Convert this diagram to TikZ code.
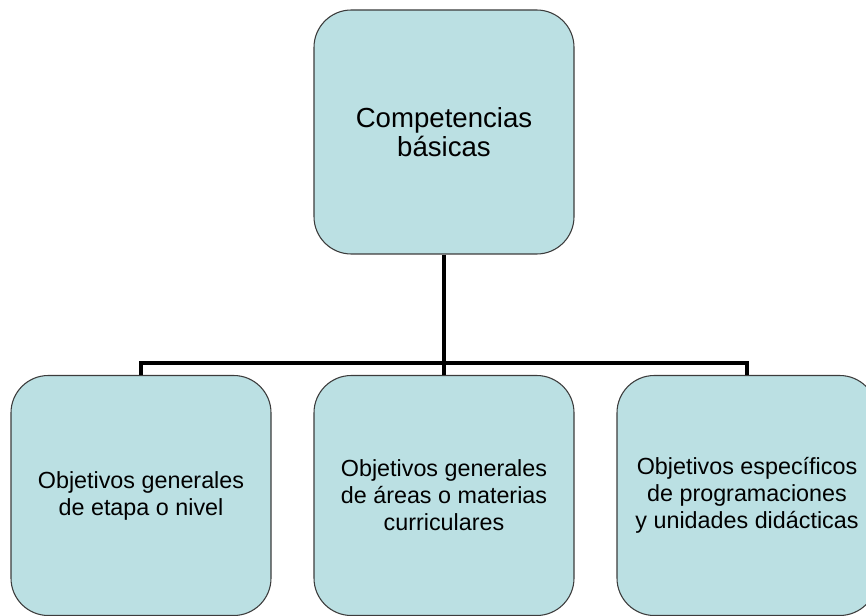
\documentclass[tikz,border=0pt]{standalone}
\usepackage{fontspec}
\setmainfont{Liberation Sans}
\definecolor{boxfill}{RGB}{187,224,227}
\definecolor{boxline}{RGB}{60,60,60}
\begin{document}
\begin{tikzpicture}[x=0.75pt,y=-0.75pt,
  box/.style={draw=boxline,line width=0.8pt,fill=boxfill,rounded corners=28pt,
    minimum width=195pt,align=center,inner sep=0pt},
  topbox/.style={box,minimum height=183pt,font=\fontsize{20.7}{22}\selectfont},
  lowbox/.style={box,minimum height=180pt,font=\fontsize{17.5}{20.3}\selectfont},
  conn/.style={line width=2.6pt,draw=black}]
\useasboundingbox (0,0) rectangle (866,616);
\clip (0,0) rectangle (866,616);
\node[topbox] (top) at (444,132) {Competencias\\básicas};
\node[lowbox] (left) at (141,495.5) {Objetivos generales\\de etapa o nivel};
\node[lowbox] (mid) at (444,495.5) {Objetivos generales\\de áreas o materias\\curriculares};
\node[lowbox] (right) at (747,495.5) {Objetivos específicos\\de programaciones\\y unidades didácticas};
\coordinate (j) at (444,363);
\draw[conn] (top.south) -- (j);
\draw[conn] (mid.north) -- (j);
\draw[conn] (left.north) -- (left.north |- j) -- (right.north |- j) -- (right.north);
\end{tikzpicture}
\end{document}
